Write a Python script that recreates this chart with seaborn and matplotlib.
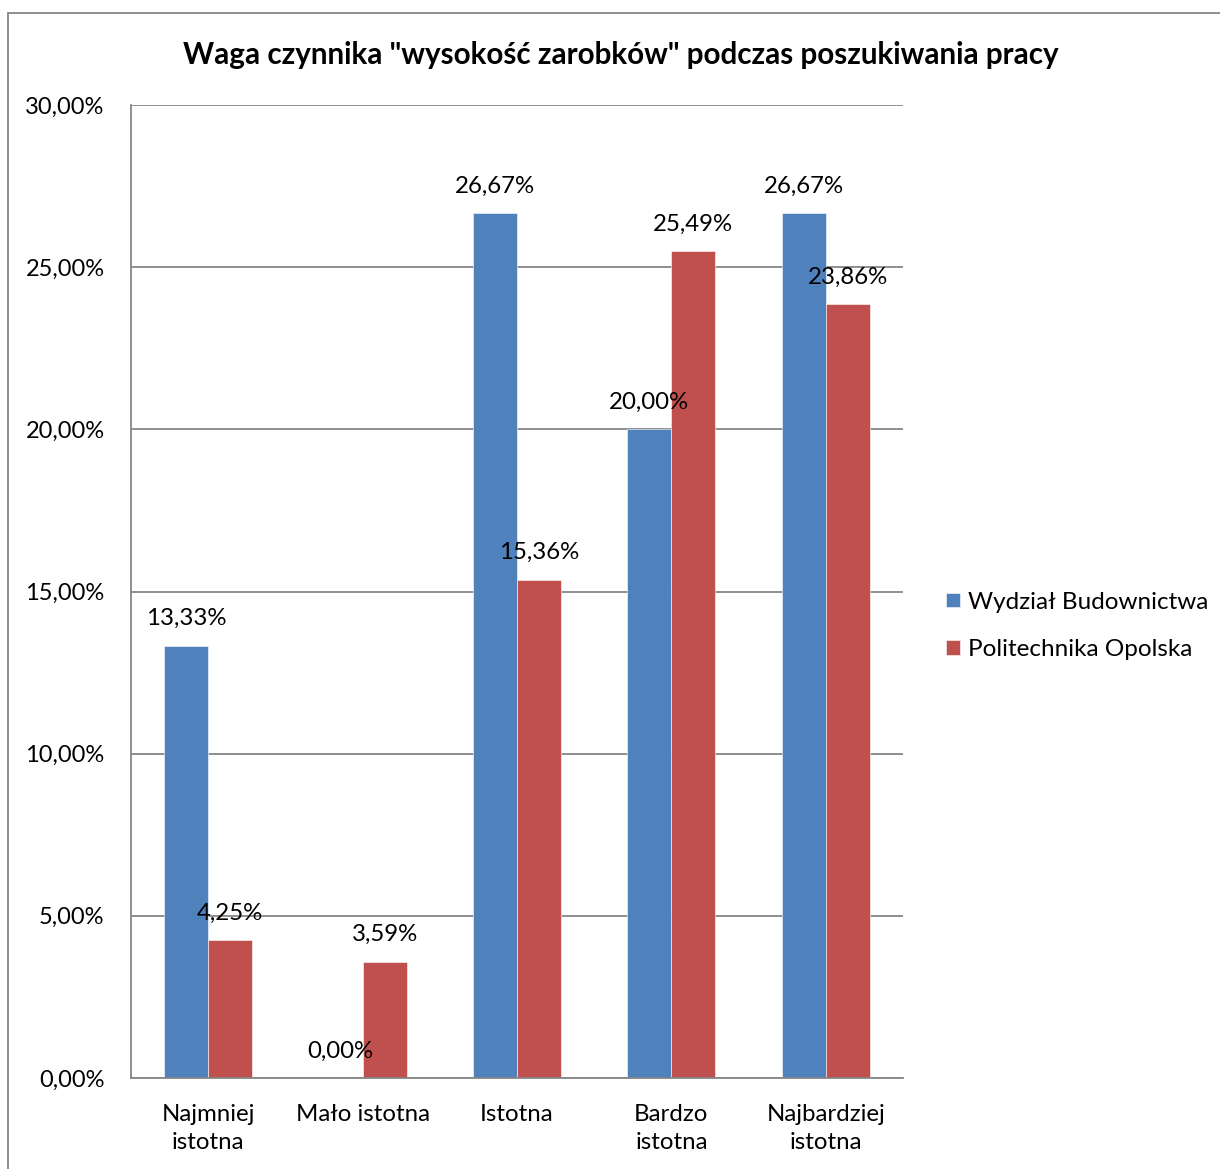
import pandas as pd
import matplotlib
matplotlib.use("Agg")
import matplotlib.pyplot as plt
import seaborn as sns
from matplotlib.patches import Rectangle
from matplotlib.ticker import FuncFormatter

# Dane
kategorie = ["Najmniej\nistotna", "Mało istotna", "Istotna", "Bardzo\nistotna", "Najbardziej\nistotna"]
wydzial = [13.33, 0.00, 26.67, 20.00, 26.67]
politechnika = [4.25, 3.59, 15.36, 25.49, 23.86]
serie = ["Wydział Budownictwa", "Politechnika Opolska"]
kolory = ["#4F81BD", "#C0504D"]

df = pd.DataFrame({
    "kategoria": kategorie * 2,
    "wartosc": wydzial + politechnika,
    "seria": [serie[0]] * len(kategorie) + [serie[1]] * len(kategorie),
})

sns.set_theme(style="white")
plt.rcParams["font.family"] = ["Lato", "DejaVu Sans"]
plt.rcParams["text.color"] = "black"

fig = plt.figure(figsize=(12.2, 11.69), dpi=100)
ax = fig.add_axes([131 / 1220, 1 - 1078 / 1169, (903 - 131) / 1220, (1078 - 105) / 1169])

sns.barplot(data=df, x="kategoria", y="wartosc", hue="seria", palette=kolory,
            width=0.57, gap=0, saturation=1, ax=ax, zorder=2,
            edgecolor="white", linewidth=0.4)

ax.set_ylim(0, 30)
ax.set_xlim(-0.5, 4.5)
ax.set_yticks(range(0, 31, 5))
ax.yaxis.set_major_formatter(FuncFormatter(lambda v, p: f"{v:.2f}%".replace(".", ",")))
ax.yaxis.grid(True, color="#868686", linewidth=1.3, zorder=0)
ax.set_axisbelow(True)
ax.set_xlabel("")
ax.set_ylabel("")
ax.tick_params(axis="y", labelsize=17, pad=19, colors="#000000", length=0)
ax.tick_params(axis="x", labelsize=17.3, pad=19, colors="#000000", length=0)
for lbl in ax.get_xticklabels():
    lbl.set_linespacing(1.4)
for s in ["top", "right"]:
    ax.spines[s].set_visible(False)
for s in ["left", "bottom"]:
    ax.spines[s].set_color("#868686")
    ax.spines[s].set_linewidth(1.3)

# etykiety danych
for cont in ax.containers:
    for bar in cont:
        h = bar.get_height()
        ax.annotate(f"{h:.2f}%".replace(".", ","),
                    (bar.get_x() + bar.get_width() / 2, h),
                    xytext=(0, 19.5), textcoords="offset points",
                    ha="center", va="center", fontsize=17.3, zorder=5)

ax.legend(loc="center left", bbox_to_anchor=(1.028, 0.4645), frameon=False,
          fontsize=17.5, handlelength=0.55, handleheight=0.55, handletextpad=0.35,
          labelspacing=1.1)

fig.text(621 / 1220, 1 - 55 / 1169, 'Waga czynnika "wysokość zarobków" podczas poszukiwania pracy',
         ha="center", va="center", fontsize=21.3, fontweight="bold")

fig.patches.append(Rectangle((8 / 1220, -0.1), 1.2, 1 - 13 / 1169 + 0.1,
                             transform=fig.transFigure, fill=False,
                             edgecolor="#868686", linewidth=1.3))

fig.savefig("out.png", dpi=100, facecolor="white")
